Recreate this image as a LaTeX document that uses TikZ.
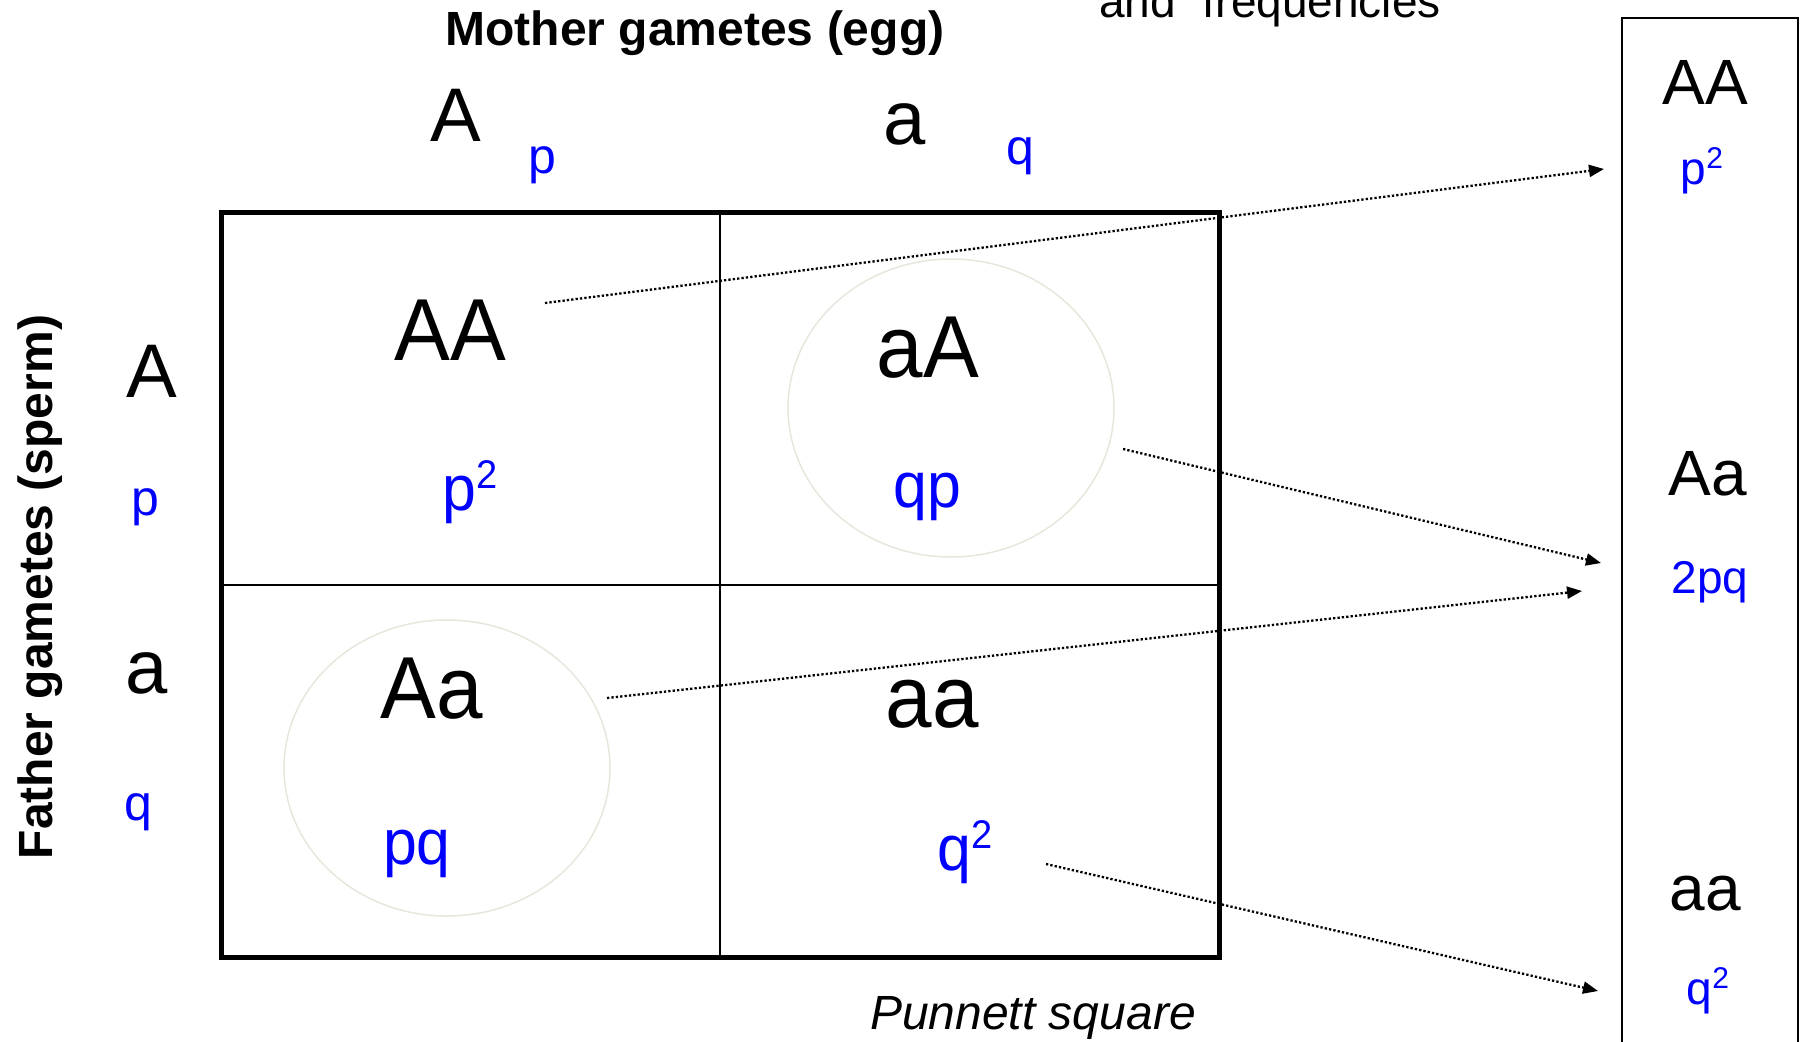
\documentclass[tikz,border=0pt]{standalone}
\usepackage{fontspec}
\setmainfont{Liberation Sans}
\newfontfamily\narrowsans[FakeStretch=0.95]{Liberation Sans}
\usetikzlibrary{arrows.meta}
\definecolor{sblue}{RGB}{0,0,255}
\definecolor{ringcol}{RGB}{232,230,220}
\newcommand{\fsz}[1]{\fontsize{#1}{#1}\selectfont}
\newcommand{\suptwo}[2]{\raisebox{#2pt}{\fsz{#1}2}}
\begin{document}
\begin{tikzpicture}[x=1pt,y=-1pt,
  lbl/.style={anchor=base, inner sep=0pt},
  geno/.style={lbl, font=\narrowsans\fsz{88}},
  freq/.style={lbl, font=\narrowsans\fsz{64}, text=sblue},
  allele/.style={lbl, font=\fsz{76}},
  afreq/.style={lbl, font=\fsz{50}, text=sblue},
  rgeno/.style={lbl, font=\fsz{64}},
  rfreq/.style={lbl, font=\fsz{46}, text=sblue},
  title/.style={lbl, font=\bfseries\fsz{48}},
  ring/.style={draw=ringcol, line width=1.5pt},
  link/.style={line width=2.3pt, dash pattern=on 2.3pt off 2.1pt, -{Triangle[length=15pt,width=12pt]}}
]
\useasboundingbox (0,0) rectangle (1806,1041);
% Punnett square
\draw[line width=2.3pt] (720,212) -- (720,957);
\draw[line width=2.3pt] (221,585) -- (1219,585);
\draw[line width=5pt] (221,212) rectangle (1219,957);
% ellipses
\draw[ring] (951,408) ellipse [x radius=163, y radius=149];
\draw[ring] (447,768) ellipse [x radius=163, y radius=148];
% titles
\node[title] (mother) at (695,46) {Mother gametes (egg)};
\node[title, rotate=90] (father) at (52,587) {Father gametes (sperm)};
\node[lbl, anchor=base west, font=\fsz{46}] (freqs) at (1099,18) {and\hspace{27pt}frequencies};
\node[lbl, font=\itshape\fsz{48}] (punnett) at (1033,1029) {Punnett square};
% alleles
\node[allele] (mA) at (456,141) {A};
\node[afreq] (mp) at (542,173) {p};
\node[allele] (ma) at (905,144) {a};
\node[afreq] (mq) at (1020,164) {q};
\node[allele] (fA) at (152,397) {A};
\node[afreq] (fp) at (145,515) {p};
\node[allele] (fa) at (147,693) {a};
\node[afreq] (fq) at (138,820) {q};
% cells
\node[geno] (cAA) at (450,360) {AA};
\node[freq] (cpp) at (470,510) {p\suptwo{40}{22}};
\node[geno] (caA) at (928,377) {aA};
\node[freq] (cqp) at (927,507) {qp};
\node[geno] (cAa) at (432,718) {Aa};
\node[freq] (cpq) at (417,864) {pq};
\node[geno] (caa) at (932,727) {aa};
\node[freq] (cqq) at (965,870) {q\suptwo{40}{22}};
% right box
\draw[line width=2.3pt] (1622,1060) -- (1622,18) -- (1798,18) -- (1798,1060);
\node[rgeno] (rAA) at (1705,104) {AA};
\node[rfreq] (rpp) at (1702,184) {p\suptwo{30}{16}};
\node[rgeno] (rAa) at (1708,495) {Aa};
\node[rfreq] (rpq) at (1710,593) {2pq};
\node[rgeno] (raa) at (1705,910) {aa};
\node[rfreq] (rqq) at (1708,1004) {q\suptwo{30}{16}};
% connectors
\coordinate (s1) at (545,303);
\coordinate (e1) at (1604,169);
\coordinate (s2) at (1123,449);
\coordinate (e2) at (1601,563);
\coordinate (s3) at (607,698);
\coordinate (e3) at (1582,591);
\coordinate (s4) at (1046,864);
\coordinate (e4) at (1598,991);
\draw[link] (s1) -- (e1);
\draw[link] (s2) -- (e2);
\draw[link] (s3) -- (e3);
\draw[link] (s4) -- (e4);
\end{tikzpicture}
\end{document}
